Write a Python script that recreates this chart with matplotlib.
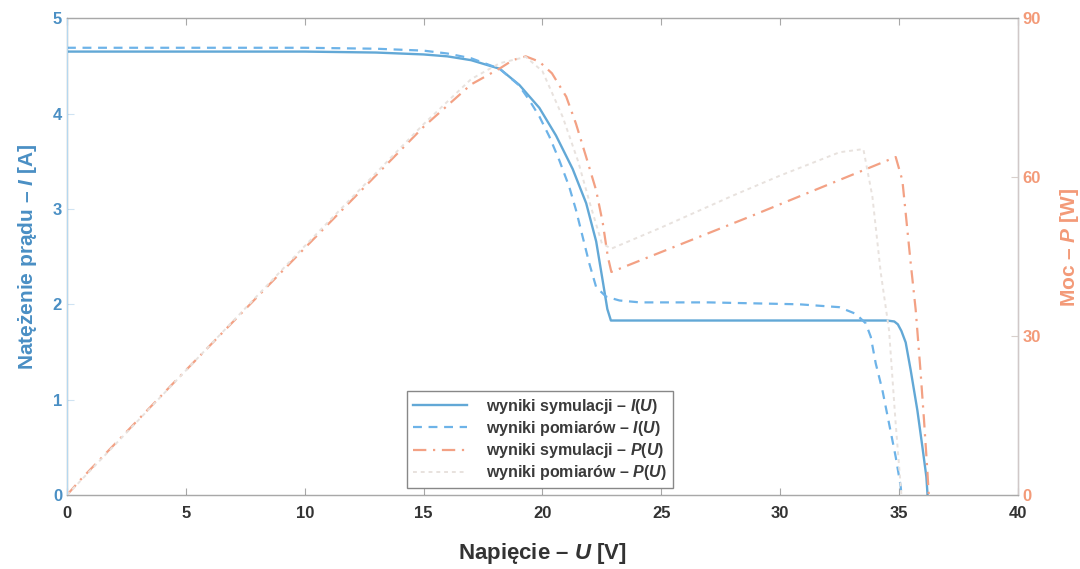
import matplotlib.pyplot as plt

plt.rcParams['font.family'] = ['Liberation Sans', 'DejaVu Sans']
plt.rcParams['font.weight'] = 'bold'
plt.rcParams['axes.labelweight'] = 'bold'
plt.rcParams['mathtext.fontset'] = 'custom'
plt.rcParams['mathtext.it'] = 'Liberation Sans:italic:bold'
plt.rcParams['mathtext.rm'] = 'Liberation Sans:bold'

# I(U) - symulacja
u_sim_i = [0, 5, 10, 13, 15, 16, 17, 18.2, 19.03, 19.87, 20.57, 21.27, 21.84,
           22.26, 22.54, 22.73, 22.88, 25, 30, 34.5, 34.8, 34.95, 35.1, 35.28,
           35.49, 35.77, 35.98, 36.15, 36.2]
i_sim = [4.65, 4.65, 4.65, 4.64, 4.62, 4.6, 4.56, 4.47, 4.3, 4.06, 3.77, 3.42,
         3.06, 2.66, 2.24, 1.95, 1.83, 1.83, 1.83, 1.83, 1.82, 1.79, 1.72, 1.6,
         1.31, 0.89, 0.51, 0.19, 0.0]

# I(U) - pomiary
u_meas_i = [0, 5, 10, 13, 15, 16, 17, 18.2, 19.0, 19.45, 19.87, 20.29, 20.71,
            21.13, 21.41, 21.69, 21.97, 22.26, 22.68, 23.24, 24.1, 27, 30.8,
            32.48, 33.18, 33.6, 33.81, 34.02, 34.3, 34.58, 34.86, 35.07, 35.1]
i_meas = [4.69, 4.69, 4.69, 4.68, 4.66, 4.63, 4.58, 4.47, 4.3, 4.14, 3.97,
          3.76, 3.51, 3.23, 2.99, 2.71, 2.43, 2.18, 2.08, 2.04, 2.02, 2.02, 2.0,
          1.97, 1.9, 1.8, 1.66, 1.38, 1.1, 0.75, 0.4, 0.09, 0.0]

# P(U) - symulacja
u_sim_p = [0, 0.55, 4.6, 10, 15, 17, 18.2, 18.76, 19.3, 19.87, 20.4, 21.0,
           21.41, 21.84, 22.26, 22.54, 22.75, 22.9, 28.7, 34.86, 35.14, 35.28,
           35.49, 35.7, 35.9, 36.05, 36.19, 36.25]
p_sim = [0, 2.8, 21.7, 46.6, 69.5, 77.5, 80.5, 82.1, 82.8, 81.8, 79.6, 75.2,
         70.1, 63.8, 57.5, 51.3, 45.0, 42.1, 52.5, 63.8, 59.4, 53.2, 43.8, 35.0,
         23.6, 14.2, 4.7, 0.0]

# P(U) - pomiary
u_meas_p = [0, 5, 10, 15, 17, 18.2, 19.3, 20.0, 20.85, 21.5, 22.0, 22.5, 22.9,
            25, 28, 30, 32.5, 33.5, 33.88, 34.23, 34.58, 34.85, 35.1]
p_meas = [0, 23.5, 47, 70, 78.5, 81.5, 82.7, 80, 71.4, 63, 55, 47.5, 46.5,
          50.5, 56.5, 60.3, 64.7, 65.3, 56.3, 42.0, 31.1, 14.0, 0.0]

x_ticks = [0, 5, 10, 15, 20, 25, 30, 35, 40]
i_ticks = [0, 1, 2, 3, 4, 5]
p_ticks = [0, 30, 60, 90]

blue_lbl = '#4a8fc4'
orange_lbl = '#f39a78'
frame = '#a8a8a8'

fig = plt.figure(figsize=(10.8, 5.69), dpi=100)
ax = fig.add_axes([0.062, 0.130, 0.8805, 0.838])
ax2 = ax.twinx()

l1, = ax.plot(u_sim_i, i_sim, color='#62a8d6', lw=1.7,
              label='wyniki symulacji – $I(U)$')
l2, = ax.plot(u_meas_i, i_meas, color='#6db3e8', lw=1.6, linestyle=(0, (4, 3)),
              label='wyniki pomiarów – $I(U)$')
l3, = ax2.plot(u_sim_p, p_sim, color='#f3a184', lw=1.6, linestyle=(0, (6, 3, 1, 3)),
               label='wyniki symulacji – $P(U)$')
l4, = ax2.plot(u_meas_p, p_meas, color='#e8e2de', lw=1.4, linestyle=(0, (2, 2)),
               label='wyniki pomiarów – $P(U)$')

ax.set_xlim(0, 40)
ax.set_ylim(0, 5)
ax2.set_ylim(0, 90)
ax.set_xticks(x_ticks)
ax.set_yticks(i_ticks)
ax2.set_yticks(p_ticks)

ax.tick_params(axis='x', direction='in', top=True, colors=frame, labelcolor='#333333',
               labelsize=12, length=5, pad=8)
ax.tick_params(axis='y', direction='in', colors='#cfe3f2', labelcolor=blue_lbl,
               labelsize=12, length=5)
ax2.tick_params(axis='y', direction='in', colors='#d8d0cc', labelcolor=orange_lbl,
                labelsize=12, length=5)

for s in ['top', 'bottom']:
    ax2.spines[s].set_color(frame)
ax2.spines['left'].set_color('#b5d8f0')
ax2.spines['right'].set_color('#d0c8c8')

ax.set_xlabel('Napięcie – $U$ [V]', fontsize=16, color='#333333', labelpad=14)
ax.set_ylabel('Natężenie prądu – $I$ [A]', fontsize=15, color=blue_lbl, labelpad=10)
ax2.set_ylabel('Moc – $P$ [W]', fontsize=15, color=orange_lbl)
ax2.yaxis.set_label_coords(1.042, 0.52)

leg = ax2.legend(handles=[l1, l2, l3, l4], loc='lower left',
                 bbox_to_anchor=(0.358, 0.0147), borderaxespad=0,
                 fontsize=11.5, handlelength=3.4, handletextpad=1.2,
                 fancybox=False, framealpha=1, edgecolor='#888888',
                 labelspacing=0.2, borderpad=0.35)
for t in leg.get_texts():
    t.set_color('#3a3a3a')

fig.savefig('out.png', dpi=100, facecolor='white')
